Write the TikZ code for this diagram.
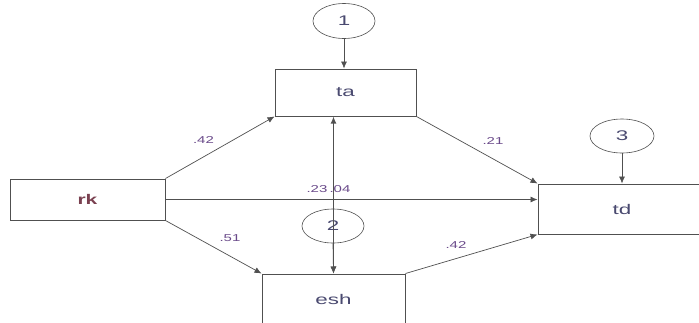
\documentclass[tikz,border=0pt]{standalone}
\usepackage{fontspec}
\usepackage{graphicx}
\setmainfont{Liberation Sans}
\usetikzlibrary{shapes.geometric,arrows.meta}
\definecolor{edge}{HTML}{505050}
\definecolor{lbl}{HTML}{6A4A8A}
\definecolor{rkc}{HTML}{7A4050}
\definecolor{boxtxt}{HTML}{4A4A70}
\newcommand{\widetxt}[1]{\scalebox{1.6}[1]{#1}}
\newcommand{\widenum}[1]{\scalebox{1.5}[1]{#1}}
\begin{document}
\begin{tikzpicture}[x=1pt,y=-1pt,
  font=\fontsize{14}{16}\selectfont,
  box/.style={draw=edge,line width=1pt,rectangle,inner sep=0pt,text=boxtxt},
  err/.style={draw=edge,line width=0.6pt,ellipse,inner sep=0pt,minimum width=62pt,minimum height=35pt,text=boxtxt},
  path/.style={draw=edge,line width=0.7pt,-{Latex[length=7pt,width=6pt]}},
  cov/.style={draw=edge,line width=1.4pt,{Latex[length=7pt,width=6pt]}-{Latex[length=7pt,width=6pt]}},
  coef/.style={text=lbl,font=\fontsize{10}{12}\selectfont,inner sep=0pt}]
\useasboundingbox (0,0) rectangle (699,322);
\fill[white] (0,0) rectangle (699,322);
\node[box,minimum width=155pt,minimum height=41pt,text=rkc,font=\fontsize{14}{16}\selectfont\bfseries] (rk) at (87.5,199.5) {\scalebox{1.5}[1]{rk}};
\node[box,minimum width=141pt,minimum height=47pt] (ta) at (345.5,92.5) {\widetxt{ta}};
\node[box,minimum width=168pt,minimum height=50pt] (td) at (622,209) {\widetxt{td}};
\node[box,minimum width=143pt,minimum height=50pt] (esh) at (333.5,299) {\widetxt{esh}};
\node[err] (e1) at (344,21) {\widetxt{1}};
\node[err,minimum height=34pt] (e2) at (333,226) {\widetxt{2}};
\node[err,minimum width=64pt,minimum height=34pt] (e3) at (622,136) {\widetxt{3}};
\draw[path] (e1.south) -- (e1.south |- ta.north);
\draw[path] (e3.south) -- (e3.south |- td.north);
\draw[path] (rk.north east) -- (ta.south west);
\draw[path] (rk.south east) -- (esh.north west);
\draw[path] (rk.east) -- (rk.east -| td.west);
\draw[path] (ta.south east) -- (td.north west);
\draw[path] (esh.north east) -- (td.south west);
\draw[cov] (esh.north) -- (esh.north |- ta.south);
\draw[path] (e2.south) -- (esh.north);
\node[coef] (c1) at (203.5,140) {\widenum{.42}};
\node[coef] (c2) at (493,141) {\widenum{.21}};
\node[coef] (c3) at (317,189) {\widenum{.23}};
\node[coef] (c4) at (340,189) {\widenum{.04}};
\node[coef] (c5) at (230,238) {\widenum{.51}};
\node[coef] (c6) at (456,245) {\widenum{.42}};
\end{tikzpicture}
\end{document}
